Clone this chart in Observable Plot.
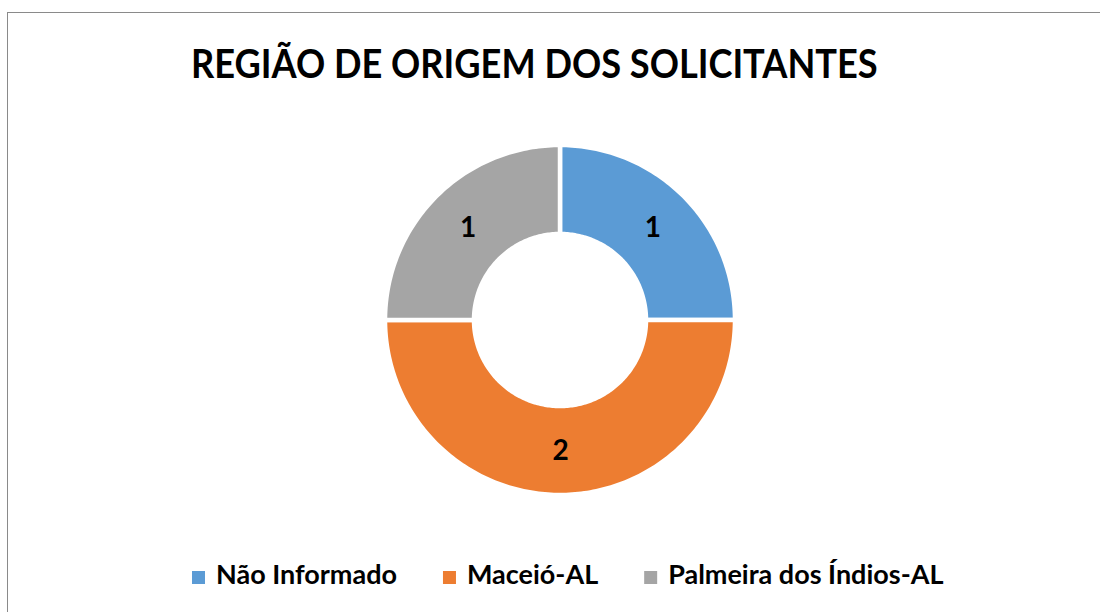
<!DOCTYPE html>
<html><head><meta charset="utf-8">
<script src="https://cdn.jsdelivr.net/npm/d3@7"></script>
<script src="https://cdn.jsdelivr.net/npm/@observablehq/plot@0.6"></script>
<style>
body{margin:0;background:#fff;}
#wrap{position:relative;width:1100px;height:612px;overflow:hidden;background:#fff;font-family:Lato,"Open Sans",sans-serif;}
#frame{position:absolute;left:7px;top:12px;width:1200px;height:800px;border:1.5px solid #8a8a8a;box-sizing:border-box;}
#chart{position:absolute;left:380px;top:140px;}
#overlay{position:absolute;left:0;top:0;}
</style></head><body>
<div id="wrap"><div id="frame"></div><div id="chart"></div><svg id="overlay" width="1100" height="612"></svg></div>
<script>
const title = "REGIÃO DE ORIGEM DOS SOLICITANTES";
const categories = ["Não Informado", "Maceió-AL", "Palmeira dos Índios-AL"];
const values = [1, 2, 1];
const colors = ["#5B9BD5", "#ED7D31", "#A5A5A5"];

const rOuter = 175, rInner = 86, rLabel = 130.5;
const pie = d3.pie().sort(null).value(d => d.value)(categories.map((c, i) => ({category: c, value: values[i]})));
const ringPts = [];
pie.forEach(p => {
  const n = Math.max(2, Math.ceil((p.endAngle - p.startAngle) / (Math.PI / 180)));
  for (let k = 0; k <= n; k++) {
    const a = p.startAngle + (p.endAngle - p.startAngle) * k / n;
    ringPts.push({category: p.data.category,
      x1: rInner * Math.sin(a), y1: rInner * Math.cos(a),
      x2: rOuter * Math.sin(a), y2: rOuter * Math.cos(a)});
  }
});
const labels = pie.map(p => {
  const a = (p.startAngle + p.endAngle) / 2;
  return {category: p.data.category, value: p.data.value, x: rLabel * Math.sin(a), y: rLabel * Math.cos(a)};
});

const chart = Plot.plot({
  width: 360, height: 360, margin: 0,
  x: {domain: [-180, 180], axis: null},
  y: {domain: [-180, 180], axis: null},
  color: {domain: categories, range: colors},
  style: {fontFamily: "Lato, 'Open Sans', sans-serif", background: "transparent"},
  marks: [
    Plot.area(ringPts, {x1: "x1", y1: "y1", x2: "x2", y2: "y2", z: "category", fill: "category", stroke: "white", strokeWidth: 4.5}),
    Plot.text(labels, {x: "x", y: "y", text: "value", fontSize: 28, fontWeight: "bold", fill: "black"})
  ]
});
document.getElementById("chart").appendChild(chart);

const svg = d3.select("#overlay");
function fitSize(str, target, weight) {
  const t = svg.append("text").attr("font-size", 100).attr("font-weight", weight).attr("font-family", "Lato, 'Open Sans', sans-serif").text(str);
  const w = t.node().getComputedTextLength();
  t.remove();
  return 100 * target / w;
}
const titleSize = fitSize(title, 687, "bold");
svg.append("text").attr("transform", "translate(191,77.5) scale(1,1.1)").attr("font-size", titleSize).attr("font-weight", "bold")
  .attr("font-family", "Lato, 'Open Sans', sans-serif").attr("fill", "#000").text(title);

const legSize = fitSize(categories[0], 181, "bold");
let lx = 192;
categories.forEach((c, i) => {
  svg.append("rect").attr("x", lx).attr("y", 571).attr("width", 13).attr("height", 13).attr("fill", colors[i]);
  const t = svg.append("text").attr("x", lx + 24).attr("y", 584).attr("font-size", legSize).attr("font-weight", "bold")
    .attr("font-family", "Lato, 'Open Sans', sans-serif").attr("fill", "#000").text(c);
  lx = lx + 24 + t.node().getComputedTextLength() + 46;
});
</script>
</body></html>
